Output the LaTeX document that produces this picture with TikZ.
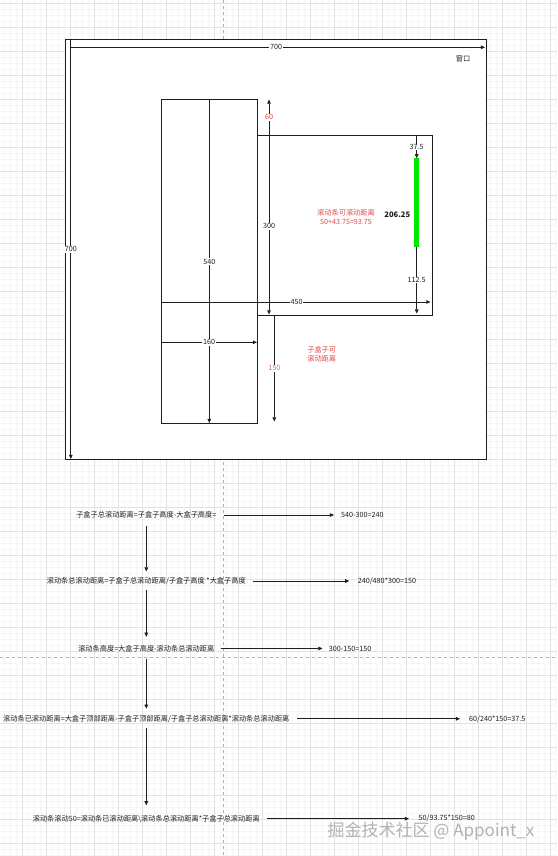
\documentclass[tikz,border=0pt]{standalone}
\usepackage{fontspec}
\setmainfont{Noto Sans CJK SC}
\usetikzlibrary{arrows.meta}
\definecolor{redtxt}{HTML}{E84545}
\definecolor{orgtxt}{HTML}{F06A3A}
\definecolor{barg}{HTML}{00E800}
\definecolor{gridmaj}{HTML}{E2E2E2}
\definecolor{gridmin}{HTML}{F6F6F6}
\definecolor{ink}{HTML}{1E1E1E}
\begin{document}
\begin{tikzpicture}[x=1pt,y=-1pt,
  every node/.style={font=\fontsize{7.2}{8.6}\selectfont, inner sep=0pt, text=ink},
  box/.style={draw=ink, line width=0.75pt, fill=white, anchor=north west},
  ln/.style={draw=ink, line width=0.65pt},
  arr/.style={ln, -{Triangle[length=4.2pt,width=3.6pt]}},
  lbl/.style={fill=white, inner sep=0.6pt},
  ftxt/.style={minimum height=9pt},
]
\useasboundingbox (0,0) rectangle (557,856);
\fill[white] (0,0) rectangle (557,856);
% grid
\foreach \i in {0,...,93} {\draw[gridmin, line width=0.4pt] ({\i*6-1.7},0) -- ++(0,856);}
\foreach \i in {0,...,142} {\draw[gridmin, line width=0.4pt] (0,{\i*6+3.3}) -- ++(557,0);}
\foreach \i in {0,...,22} {\draw[gridmaj, line width=0.5pt] ({\i*24+22.3},0) -- ++(0,856);}
\foreach \i in {0,...,35} {\draw[gridmaj, line width=0.5pt] (0,{\i*24+3.3}) -- ++(557,0);}
\draw[gray!60, dashed, line width=0.5pt] (223,0) -- (223,856);
\draw[gray!60, dashed, line width=0.5pt] (0,657) -- (557,657);

% window
\node[box, minimum width=420.5pt, minimum height=420pt] (win) at (65,39) {};
\node (wintxt) at (463,59) {窗口};
\coordinate (h7a) at (71.2,47.3);
\coordinate (h7b) at (485,47.3);
\coordinate (v7a) at (70.8,39.5);
\coordinate (v7b) at (70.8,459);
\draw[arr] (h7a) -- (h7b) node[lbl, pos=0.495] (l700h) {700};
\draw[arr] (v7a) -- (v7b) node[lbl, pos=0.5] (l700v) {700};

% child box and viewport
\node[box, minimum width=96.8pt, minimum height=324pt] (child) at (160.5,99.3) {};
\node[box, minimum width=174.4pt, minimum height=180pt] (view) at (257.3,135.3) {};

% scrollbar
\fill[barg] (414,158.3) rectangle (419.3,246.7);
\coordinate (bartop) at (416.7,158.3);
\coordinate (barbot) at (416.7,246.7);

% dimension lines
\draw[arr] (209.3,99.3) -- (209.3,423) node[lbl, pos=0.501] (l540) {540};
\draw[arr] (161,302) -- (430.5,302) node[lbl, pos=0.503] (l450) {450};
\draw[arr] (161,342.3) -- (257,342.3) node[lbl, pos=0.5] (l160) {160};
\draw[arr] (269,135.3) -- (269,99.5) node[lbl, pos=0.5, text=redtxt] (l60) {60};
\draw[arr] (269,135.3) -- (269,314.5) node[lbl, pos=0.508] (l300) {300};
\draw[arr] (274.3,315.3) -- (274.3,421.5) node[lbl, pos=0.5, text=orgtxt] (l150) {150};
\draw[arr] (416.7,135.3) -- (bartop) node[lbl, pos=0.5] (l375) {37.5};
\draw[arr] (barbot) -- (416.7,313.5) node[lbl, pos=0.5] (l1125) {112.5};

\node[font=\fontsize{7.6}{9}\selectfont\bfseries] (l206) at (397.3,214.3) {206.25};
\node[align=center, text=redtxt] (scrolltxt) at (346,217.2) {滚动条可滚动距离\\[0.3pt]50+43.75=93.75};
\node[align=center, text=redtxt] (childtxt) at (321.7,354) {子盒子可\\[0.6pt]滚动距离};

% flow
\node[ftxt, minimum width=139.3pt] (t1) at (146.3,515) {子盒子总滚动距离=子盒子高度-大盒子高度=};
\node[ftxt, anchor=west] (r1) at (341,515) {540-300=240};
\node[ftxt, minimum width=198pt] (t2) at (146.3,581) {滚动条总滚动距离=子盒子总滚动距离/子盒子高度 *大盒子高度};
\node[ftxt, anchor=west] (r2) at (357.7,581) {240/480*300=150};
\node[ftxt, minimum width=135.3pt] (t3) at (146.3,648.5) {滚动条高度=大盒子高度-滚动条总滚动距离};
\node[ftxt, anchor=west] (r3) at (328.6,648.5) {300-150=150};
\node[ftxt, minimum width=284.1pt] (t4) at (146.3,718.8) {滚动条已滚动距离=大盒子顶部距离-子盒子顶部距离/子盒子总滚动距离*滚动条总滚动距离};
\node[ftxt, anchor=west] (r4) at (469,718.8) {60/240*150=37.5};
\node[ftxt, minimum width=224.9pt] (t5) at (146.3,818.7) {滚动条滚动50=滚动条已滚动距离\textbackslash 滚动条总滚动距离*子盒子总滚动距离};
\node[ftxt, anchor=west] (r5) at (418.5,818.7) {50/93.75*150=80};

\draw[arr, shorten <=7.3pt, shorten >=7pt] (t1.east) -- (r1.west);
\draw[arr, shorten <=6.7pt, shorten >=8.4pt] (t2.east) -- (r2.west);
\draw[arr, shorten <=6.6pt, shorten >=6.1pt] (t3.east) -- (r3.west);
\draw[arr, shorten <=7.6pt, shorten >=9pt] (t4.east) -- (r4.west);
\draw[arr, shorten <=6.9pt, shorten >=9.5pt] (t5.east) -- (r5.west);

\draw[arr, shorten <=6.5pt, shorten >=4.8pt] (t1.south) -- (t2.north);
\draw[arr, shorten <=4.5pt, shorten >=7pt] (t2.south) -- (t3.north);
\draw[arr, shorten <=5.4pt, shorten >=5.4pt] (t3.south) -- (t4.north);
\draw[arr, shorten <=4.7pt, shorten >=8.7pt] (t4.south) -- (t5.north);

\node[font=\fontsize{17}{20}\selectfont, text=gray!60] (wm) at (431,831) {掘金技术社区 @ Appoint\_x};
\end{tikzpicture}
\end{document}
